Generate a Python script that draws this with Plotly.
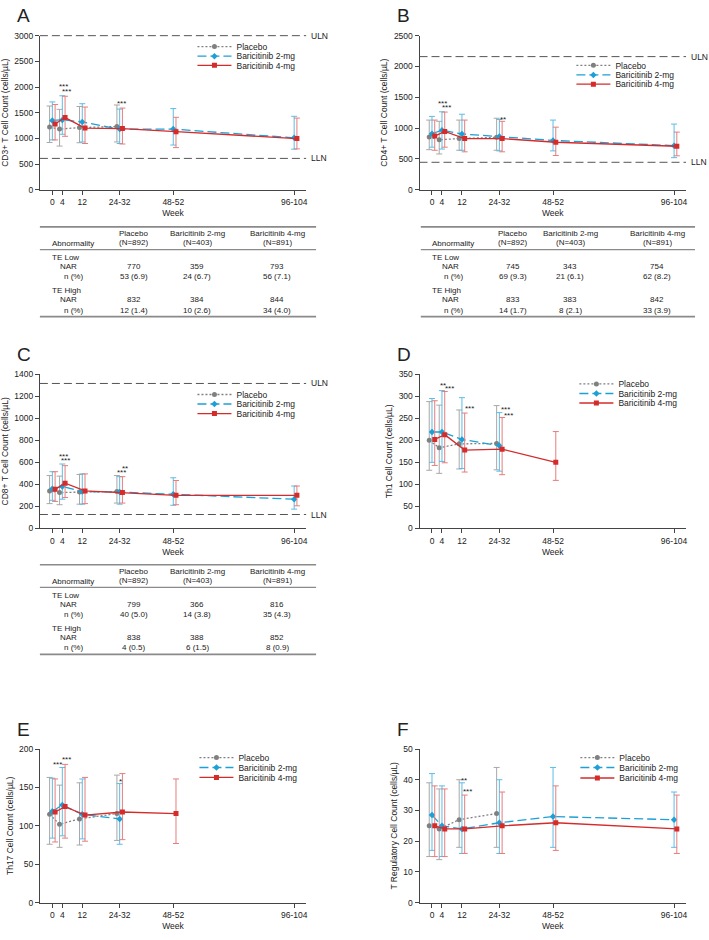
"""
T cell subsets over time by treatment arm (panels A-F) - Plotly
"""

import plotly.graph_objects as go

W, H = 709, 940
FONT = "Arial, 'Liberation Sans', sans-serif"
TXT = "#222222"
AX = "#444444"

WEEK_LABELS = ["0", "4", "12", "24-32", "48-52", "96-104"]
WEEK_POS = [0, 4, 12, 27, 48.5, 97]
ARMS = ["Placebo", "Baricitinib 2-mg", "Baricitinib 4-mg"]
ARM_N = [892, 403, 891]

# ---- A: CD3+ (median, Q1, Q3) ----
cd3_pbo = [1220, 1180, 1210, 1230]
cd3_pbo_q1 = [920, 850, 915, 930]
cd3_pbo_q3 = [1630, 1565, 1620, 1650]
cd3_2mg = [1350, 1360, 1320, 1180, 1180, 1010]
cd3_2mg_q1 = [970, 1080, 930, 900, 870, 790]
cd3_2mg_q3 = [1710, 1830, 1675, 1570, 1580, 1430]
cd3_4mg = [1280, 1405, 1200, 1190, 1130, 995]
cd3_4mg_q1 = [970, 1040, 900, 890, 820, 795]
cd3_4mg_q3 = [1660, 1820, 1610, 1590, 1410, 1395]

# ---- B: CD4+ ----
cd4_pbo = [855, 810, 830, 850]
cd4_pbo_q1 = [650, 580, 640, 640]
cd4_pbo_q3 = [1130, 1110, 1130, 1160]
cd4_2mg = [910, 965, 905, 865, 800, 715]
cd4_2mg_q1 = [690, 660, 640, 630, 630, 520]
cd4_2mg_q3 = [1190, 1265, 1225, 1140, 1130, 1065]
cd4_4mg = [870, 945, 830, 830, 770, 705]
cd4_4mg_q1 = [640, 690, 615, 615, 555, 550]
cd4_4mg_q3 = [1130, 1260, 1130, 1110, 1015, 935]

# ---- C: CD8+ ----
cd8_pbo = [340, 325, 330, 335]
cd8_pbo_q1 = [225, 215, 220, 230]
cd8_pbo_q3 = [480, 475, 490, 480]
cd8_2mg = [360, 380, 335, 330, 310, 265]
cd8_2mg_q1 = [255, 265, 220, 220, 210, 175]
cd8_2mg_q3 = [515, 585, 495, 470, 460, 385]
cd8_4mg = [355, 410, 340, 325, 300, 300]
cd8_4mg_q1 = [245, 280, 225, 230, 215, 205]
cd8_4mg_q3 = [515, 570, 495, 470, 435, 385]

# ---- D: Th1 ----
th1_pbo = [200, 183, 192, 193]
th1_pbo_q1 = [132, 125, 135, 133]
th1_pbo_q3 = [288, 280, 269, 279]
th1_2mg = [219, 219, 202, 188]
th1_2mg_q1 = [150, 152, 136, 130]
th1_2mg_q3 = [295, 313, 297, 263]
th1_4mg = [202, 213, 178, 180, 150]
th1_4mg_q1 = [143, 149, 128, 122, 109]
th1_4mg_q3 = [290, 311, 262, 252, 220]

# ---- E: Th17 ----
th17_pbo = [115, 102, 109, 116]
th17_pbo_q1 = [76, 72, 75, 81]
th17_pbo_q3 = [163, 153, 156, 166]
th17_2mg = [119, 127, 115, 109]
th17_2mg_q1 = [84, 87, 83, 76]
th17_2mg_q3 = [162, 176, 161, 155]
th17_4mg = [118, 125, 114, 118, 116]
th17_4mg_q1 = [79, 84, 80, 82, 77]
th17_4mg_q3 = [161, 180, 163, 168, 161]

# ---- F: T regulatory ----
treg_pbo = [25, 24, 27, 29]
treg_pbo_q1 = [15, 14, 18, 18]
treg_pbo_q3 = [39, 37, 40, 44]
treg_2mg = [28.5, 25, 24, 26, 28, 27]
treg_2mg_q1 = [17, 15, 16, 16, 18, 18]
treg_2mg_q3 = [42, 38, 39, 40, 44, 36]
treg_4mg = [25, 24, 24, 25, 26, 24]
treg_4mg_q1 = [15, 15, 16, 16, 17, 16]
treg_4mg_q3 = [38, 37, 35, 36, 38, 35]

# significance marks: (x in week units, y value, text)
sig_a = [(4.3, 2040, "***"), (5.7, 1945, "***"), (27.7, 1720, "***")]
sig_b = [(4.3, 1430, "***"), (5.9, 1365, "***"), (28.3, 1180, "**")]
sig_c = [(4.3, 667, "***"), (5.4, 634, "***"), (29.0, 565, "**"), (27.7, 529, "***")]
sig_d = [(4.3, 330, "**"), (7.0, 323, "***"), (15.0, 278, "***"), (29.4, 275, "***"), (30.7, 260, "***")]
sig_e = [(1.9, 182, "***"), (5.7, 189, "***"), (27.3, 160, "*")]
sig_f = [(13.0, 40.4, "**"), (14.3, 36.7, "***")]

# tables: rows of NAR and n per arm
tbl_a = dict(low_nar=[770, 359, 793], low_n=[53, 24, 56], high_nar=[832, 384, 844], high_n=[12, 10, 34])
tbl_b = dict(low_nar=[745, 343, 754], low_n=[69, 21, 62], high_nar=[833, 383, 842], high_n=[14, 8, 33])
tbl_c = dict(low_nar=[799, 366, 816], low_n=[40, 14, 35], high_nar=[838, 388, 852], high_n=[4, 6, 8])

ARM_STYLE = {
    "Placebo": dict(color="#808080", err="#a8a8a8", dash="2px,2px", symbol="circle", shift=-1.1),
    "Baricitinib 2-mg": dict(color="#1e9fd6", err="#5cbde6", dash="9px,4px", symbol="diamond", shift=0.0),
    "Baricitinib 4-mg": dict(color="#d42b2b", err="#e77d7d", dash="solid", symbol="square", shift=1.1),
}

PANELS = [
    dict(letter="A", ytitle="CD3+ T Cell Count (cells/µL)", ymax=3000, dtick=500, uln=3000, lln=610,
         left=40, right=307, top=31, bottom=186.7, leg_x=193, leg_y=[42, 51.7, 61], sig=sig_a,
         arms=[(cd3_pbo, cd3_pbo_q1, cd3_pbo_q3), (cd3_2mg, cd3_2mg_q1, cd3_2mg_q3), (cd3_4mg, cd3_4mg_q1, cd3_4mg_q3)]),
    dict(letter="B", ytitle="CD4+ T Cell Count (cells/µL)", ymax=2500, dtick=500, uln=2160, lln=445,
         left=420.7, right=688, top=31, bottom=186.7, leg_x=573, leg_y=[61, 70.7, 80], sig=sig_b,
         arms=[(cd4_pbo, cd4_pbo_q1, cd4_pbo_q3), (cd4_2mg, cd4_2mg_q1, cd4_2mg_q3), (cd4_4mg, cd4_4mg_q1, cd4_4mg_q3)]),
    dict(letter="C", ytitle="CD8+ T Cell Count (cells/µL)", ymax=1400, dtick=200, uln=1317, lln=126,
         left=40, right=307, top=373.3, bottom=529, leg_x=193, leg_y=[393.7, 403.3, 413], sig=sig_c,
         arms=[(cd8_pbo, cd8_pbo_q1, cd8_pbo_q3), (cd8_2mg, cd8_2mg_q1, cd8_2mg_q3), (cd8_4mg, cd8_4mg_q1, cd8_4mg_q3)]),
    dict(letter="D", ytitle="Th1 Cell Count (cells/µL)", ymax=350, dtick=50, uln=None, lln=None,
         left=420.7, right=688, top=373.3, bottom=529, leg_x=576, leg_y=[383, 392.7, 402.3], sig=sig_d,
         arms=[(th1_pbo, th1_pbo_q1, th1_pbo_q3), (th1_2mg, th1_2mg_q1, th1_2mg_q3), (th1_4mg, th1_4mg_q1, th1_4mg_q3)]),
    dict(letter="E", ytitle="Th17 Cell Count (cells/µL)", ymax=200, dtick=50, uln=None, lln=None,
         left=40, right=307, top=752, bottom=907.3, leg_x=195, leg_y=[760.7, 770.7, 780.7], sig=sig_e,
         arms=[(th17_pbo, th17_pbo_q1, th17_pbo_q3), (th17_2mg, th17_2mg_q1, th17_2mg_q3), (th17_4mg, th17_4mg_q1, th17_4mg_q3)]),
    dict(letter="F", ytitle="T Regulatory Cell Count (cells/µL)", ymax=50, dtick=10, uln=None, lln=None,
         left=420.7, right=688, top=752, bottom=907.3, leg_x=577, leg_y=[760.7, 770.7, 781.3], sig=sig_f,
         arms=[(treg_pbo, treg_pbo_q1, treg_pbo_q3), (treg_2mg, treg_2mg_q1, treg_2mg_q3), (treg_4mg, treg_4mg_q1, treg_4mg_q3)]),
]

TABLES = [
    dict(data=tbl_a, x0=40, x1=317, top=224.3, cols=[134, 198, 278], abn=50, nar=58, npct=62),
    dict(data=tbl_b, x0=422, x1=697, top=224.3, cols=[514, 572, 659], abn=431, nar=441, npct=443),
    dict(data=tbl_c, x0=40, x1=317, top=565.7, cols=[134, 198, 278], abn=50, nar=58, npct=62),
]


def fx(x):
    return x / W


def fy(y):
    return 1 - y / H


fig = go.Figure()
annotations = []
shapes = []
legend_layouts = {}
leg_count = 0

for i, p in enumerate(PANELS, start=1):
    xa = "x" if i == 1 else f"x{i}"
    ya = "y" if i == 1 else f"y{i}"

    for j, arm in enumerate(ARMS):
        st = ARM_STYLE[arm]
        med, q1, q3 = p["arms"][j]
        xs = [WEEK_POS[k] + st["shift"] for k in range(len(med))]
        leg_count += 1
        leg_name = "legend" if leg_count == 1 else f"legend{leg_count}"
        fig.add_trace(go.Scatter(
            x=xs, y=med, xaxis=xa, yaxis=ya,
            mode="lines+markers", name=arm,
            line=dict(color=st["color"], width=1.3, dash=st["dash"]),
            marker=dict(symbol=st["symbol"], size=5, color=st["color"]),
            error_y=dict(type="data", symmetric=False,
                         array=[h - m for h, m in zip(q3, med)],
                         arrayminus=[m - l for m, l in zip(med, q1)],
                         color=st["err"], thickness=1, width=3),
            legend=leg_name, showlegend=True,
        ))
        legend_layouts[leg_name] = dict(
            x=fx(p["leg_x"]), y=fy(p["leg_y"][j]), xanchor="left", yanchor="middle",
            bgcolor="rgba(0,0,0,0)", borderwidth=0, itemwidth=34,
            font=dict(size=8.5, color=TXT, family=FONT),
        )

    xdom = [fx(p["left"]), fx(p["right"])]
    ydom = [fy(p["bottom"]), fy(p["top"])]
    fig.update_layout({
        ("xaxis" if i == 1 else f"xaxis{i}"): dict(
            domain=xdom, anchor=ya, range=[-5, 101.8],
            tickvals=WEEK_POS, ticktext=WEEK_LABELS,
            showline=True, linecolor=AX, linewidth=1, ticks="outside", ticklen=4,
            tickcolor=AX, showgrid=False, zeroline=False,
            tickfont=dict(size=8.5, color=TXT),
            title=dict(text="Week", font=dict(size=8.5, color=TXT), standoff=4),
        ),
        ("yaxis" if i == 1 else f"yaxis{i}"): dict(
            domain=ydom, anchor=xa, range=[0, p["ymax"]], dtick=p["dtick"],
            showline=True, linecolor=AX, linewidth=1, ticks="outside", ticklen=4,
            tickcolor=AX, showgrid=False, zeroline=False,
            tickfont=dict(size=8.5, color=TXT),
            title=dict(text=p["ytitle"], font=dict(size=8.5, color=TXT), standoff=4),
        ),
    })

    # panel letter
    annotations.append(dict(text=p["letter"], x=fx(p["left"] - 25), y=fy(p["top"] - 20),
                            xref="paper", yref="paper", xanchor="left", yanchor="middle",
                            showarrow=False, font=dict(size=19, color=TXT)))

    # reference limits (paper coords so the line at the top edge is not clipped)
    for val, lab in [(p["uln"], "ULN"), (p["lln"], "LLN")]:
        if val is None:
            continue
        y_px = p["bottom"] - val / p["ymax"] * (p["bottom"] - p["top"])
        shapes.append(dict(type="line", xref="paper", yref="paper",
                           x0=fx(p["left"]), x1=fx(p["right"]), y0=fy(y_px), y1=fy(y_px),
                           line=dict(color="#555555", width=1, dash="8px,4px")))
        annotations.append(dict(text=lab, xref="paper", yref="paper", x=fx(p["right"] + 3), y=fy(y_px),
                                xanchor="left", yanchor="middle", showarrow=False,
                                font=dict(size=8.5, color=TXT)))

    # significance
    for sx, sy, stxt in p["sig"]:
        annotations.append(dict(text=stxt, xref=xa, yref=ya, x=sx, y=sy, xanchor="center",
                                yanchor="middle", yshift=-2, showarrow=False,
                                font=dict(size=8, color=TXT)))

# tables under A, B, C
for t in TABLES:
    top = t["top"]
    d = t["data"]

    def txt(s, x, y, anchor="center"):
        annotations.append(dict(text=s, x=fx(x), y=fy(y), xref="paper", yref="paper",
                                xanchor=anchor, yanchor="middle", showarrow=False,
                                font=dict(size=8, color=TXT)))

    for y, w in [(top, 1.6), (top + 23, 1.2), (top + 90.7, 1.6)]:
        shapes.append(dict(type="line", xref="paper", yref="paper",
                           x0=fx(t["x0"]), x1=fx(t["x1"]), y0=fy(y), y1=fy(y),
                           line=dict(color="#8a8a8a", width=w)))
    txt("Abnormality", t["abn"], top + 17, "left")
    for c, arm, n in zip(t["cols"], ARMS, ARM_N):
        txt(arm, c, top + 6.6)
        txt(f"(N={n})", c, top + 16)
    txt("TE Low", t["abn"], top + 30.7, "left")
    txt("NAR", t["nar"], top + 40.4, "left")
    txt("n (%)", t["npct"], top + 50, "left")
    txt("TE High", t["abn"], top + 64, "left")
    txt("NAR", t["nar"], top + 73.7, "left")
    txt("n (%)", t["npct"], top + 84.1, "left")
    for k, c in enumerate(t["cols"]):
        txt(str(d["low_nar"][k]), c, top + 40.4)
        txt(f"{d['low_n'][k]} ({100 * d['low_n'][k] / d['low_nar'][k]:.1f})", c, top + 50)
        txt(str(d["high_nar"][k]), c, top + 73.7)
        txt(f"{d['high_n'][k]} ({100 * d['high_n'][k] / d['high_nar'][k]:.1f})", c, top + 84.1)

fig.update_layout(
    width=W, height=H,
    margin=dict(l=0, r=0, t=0, b=0),
    paper_bgcolor="white", plot_bgcolor="white",
    font=dict(family=FONT, size=8.5, color=TXT),
    annotations=annotations, shapes=shapes,
    **legend_layouts,
)

# page body has a default 8px margin; drop it so the figure fills the window
fig.write_html("out.html", config={"displayModeBar": False},
               post_script="document.body.style.margin='0';")
